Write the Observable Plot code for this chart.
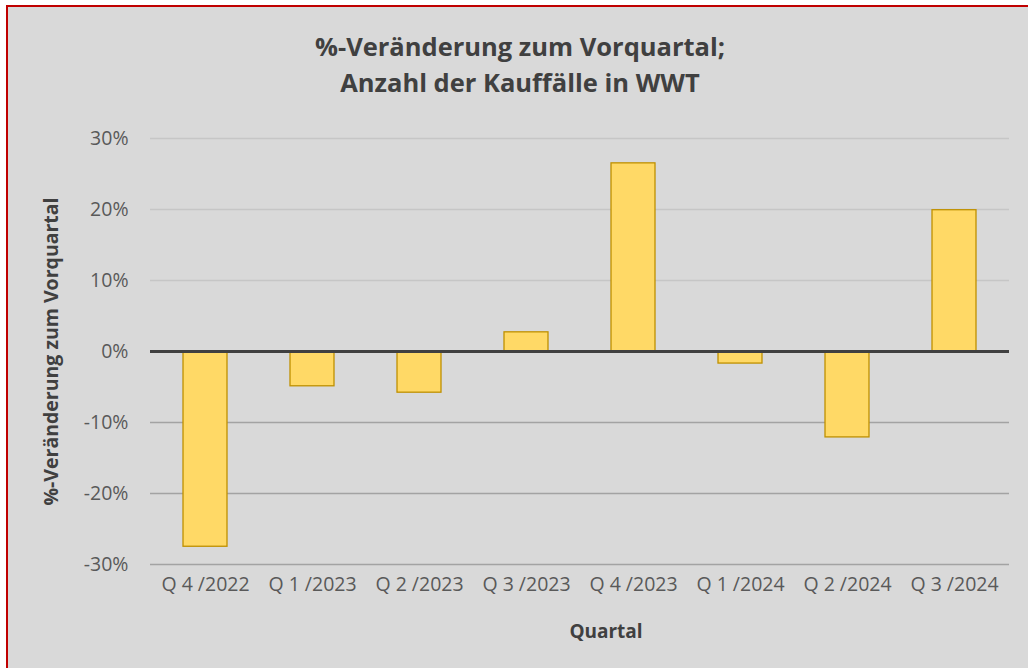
<!DOCTYPE html>
<html><head><meta charset="utf-8">
<script src="https://cdn.jsdelivr.net/npm/d3@7"></script>
<script src="https://cdn.jsdelivr.net/npm/@observablehq/plot@0.6"></script>
<style>
body{margin:0;width:1028px;height:668px;overflow:hidden;background:#fff;font-family:"Open Sans",sans-serif;}
#frame{position:absolute;left:6px;top:5px;width:1040px;height:700px;border:2px solid #c00000;background:#d9d9d9;}
#title{position:absolute;left:6px;top:28px;width:1028px;text-align:center;font-weight:bold;font-size:25.5px;line-height:36px;color:#404040;}
#chart{position:absolute;left:0;top:110px;}
</style></head>
<body>
<div id="frame"></div>
<div id="title">%-Veränderung zum Vorquartal;<br>Anzahl der Kauffälle in WWT</div>
<div id="chart"></div>
<script>
const quarters = ["Q 4 /2022","Q 1 /2023","Q 2 /2023","Q 3 /2023","Q 4 /2023","Q 1 /2024","Q 2 /2024","Q 3 /2024"];
const changes = [-0.275, -0.049, -0.058, 0.027, 0.265, -0.017, -0.121, 0.199];
const yTicks = [-0.3,-0.2,-0.1,0,0.1,0.2,0.3];
const upperGrid = [0.1,0.2,0.3];
const lowerGrid = [-0.1,-0.2,-0.3];
const xTitle = ["Quartal"];

const data = quarters.map((q,i)=>({q, v: changes[i]}));
const pct = d => Math.round(d*100) + "%";

const chart = Plot.plot({
  width: 1028,
  height: 558,
  marginLeft: 150,
  marginRight: 19,
  marginTop: 28,
  marginBottom: 104,
  style: {background:"transparent", fontFamily:"'Open Sans', sans-serif", fontSize:"19px", color:"#595959"},
  x: {domain: quarters, paddingInner: 0.59, paddingOuter: 0.295, label: null},
  y: {domain: [-0.3, 0.3], label: null},
  marks: [
    Plot.ruleY(upperGrid, {stroke:"#c6c6c6", strokeWidth:1.5}),
    Plot.ruleY(lowerGrid, {stroke:"#a3a3a3", strokeWidth:1.5}),
    Plot.barY(data, {x:"q", y:"v", fill:"#ffd966", stroke:"#bf9000", strokeWidth:1.3}),
    Plot.ruleY([0], {stroke:"#404040", strokeWidth:3}),
    Plot.axisY({ticks: yTicks, tickFormat: pct, tickSize:0, tickPadding:22, fontSize:19.5, fill:"#595959",
      label:"%-Veränderung zum Vorquartal", labelAnchor:"center", labelArrow:"none", labelOffset:106}),
    Plot.axisX({tickSize:0, tickPadding:13, fontSize:19.5, fill:"#595959", label:null}),
    Plot.text(xTitle, {text: d=>d, frameAnchor:"bottom", dx:26, dy:67, lineAnchor:"middle", fontSize:19, fontWeight:"bold", fill:"#404040"})
  ]
});
document.getElementById("chart").appendChild(chart);
chart.querySelectorAll("g[aria-label='y-axis label'] text").forEach(t=>{t.setAttribute("font-weight","bold");t.setAttribute("font-size","19.5");t.setAttribute("fill","#404040");});
</script>
</body></html>
